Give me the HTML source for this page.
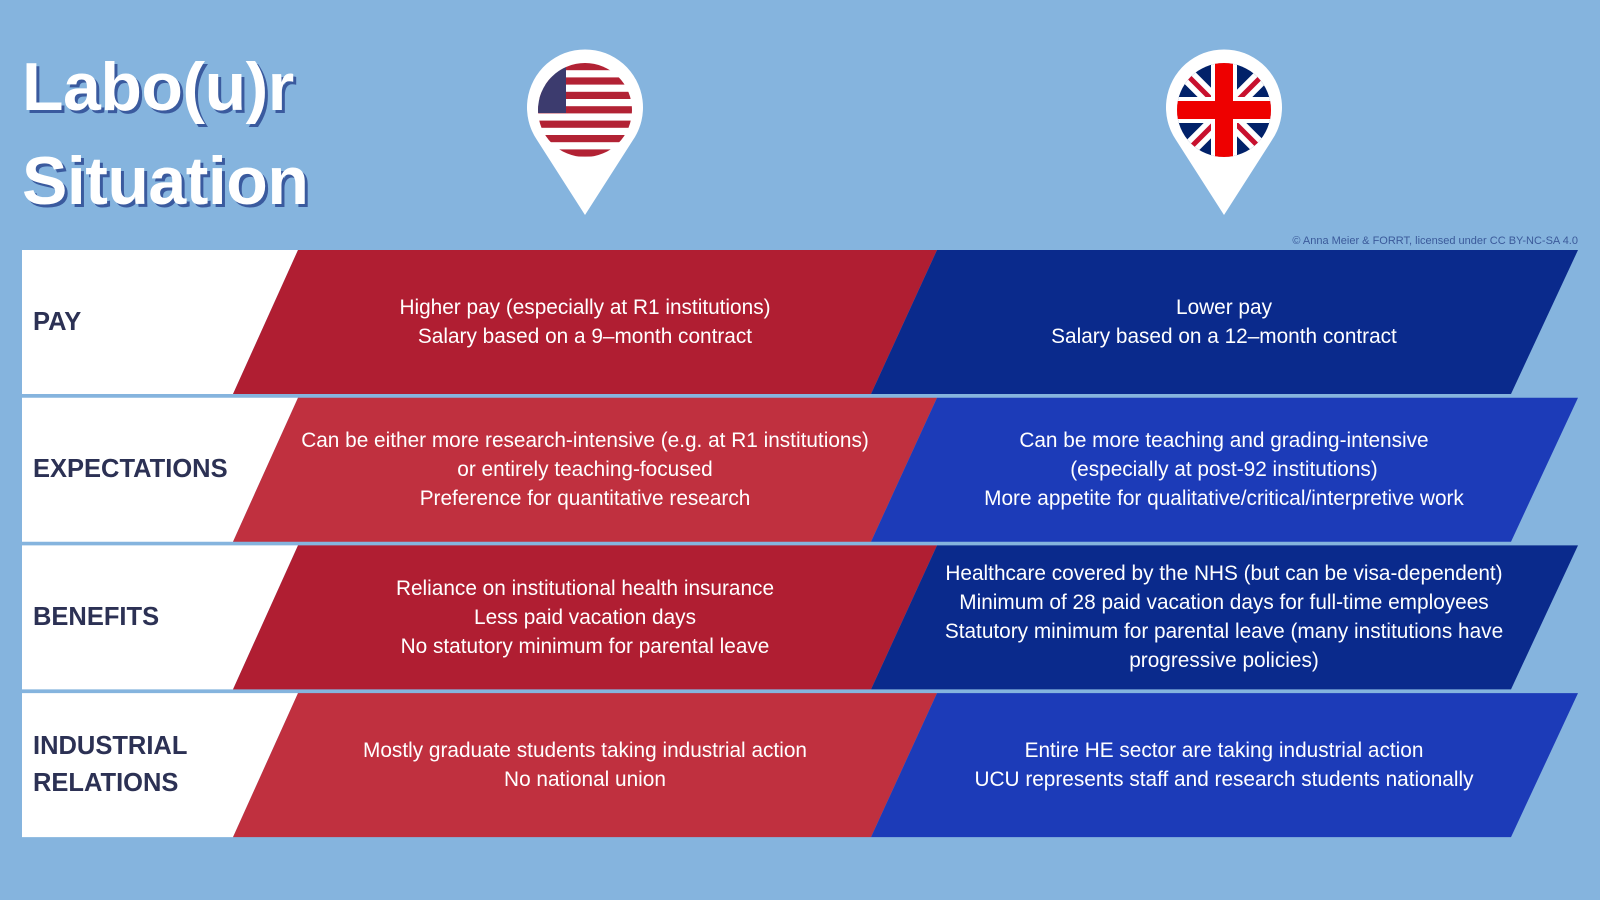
<!DOCTYPE html>
<html><head><meta charset="utf-8"><style>
body{margin:0;width:1600px;height:900px;background:#85b4de;overflow:hidden;font-family:"Liberation Sans",sans-serif;position:relative}
.t{position:absolute;left:22px;color:#fff;font-weight:bold;font-size:68px;letter-spacing:-0.5px;text-shadow:3px 3px 0 #3a5a9e}
.lab{position:absolute;left:33px;color:#2c3154;font-weight:bold;font-size:25.5px;line-height:37px;display:flex;align-items:center}
.cell{position:absolute;color:#fff;font-size:20.8px;line-height:29px;text-align:center;display:flex;align-items:center;justify-content:center}
</style></head><body>
<div class="t" style="top:48px">Labo(u)r</div>
<div class="t" style="top:142px">Situation</div>
<svg width="1600" height="900" style="position:absolute;left:0;top:0">
<defs>
<clipPath id="cu"><circle cx="585" cy="110" r="47"/></clipPath>
<clipPath id="ck"><circle cx="1224" cy="110" r="47"/></clipPath>
</defs>
<g>
<path d="M585 215 L537 140 A58 58 0 1 1 633 140 Z" fill="#fff"/>
<g clip-path="url(#cu)">
<rect x="530" y="58" width="110" height="110" fill="#fff"/>
<g fill="#b22234">
<rect x="530" y="63" width="110" height="7.2"/><rect x="530" y="77.4" width="110" height="7.2"/><rect x="530" y="91.8" width="110" height="7.2"/><rect x="530" y="106.2" width="110" height="7.2"/><rect x="530" y="120.6" width="110" height="7.2"/><rect x="530" y="135" width="110" height="7.2"/><rect x="530" y="149.4" width="110" height="7.2"/>
</g>
<rect x="530" y="58" width="36" height="55" fill="#3c3b6e"/>
</g>
</g>
<g>
<path d="M1224 215 L1176 140 A58 58 0 1 1 1272 140 Z" fill="#fff"/>
<g clip-path="url(#ck)">
<rect x="1170" y="58" width="110" height="110" fill="#012169"/>
<path d="M1170 58 L1280 168 M1280 58 L1170 168" stroke="#fff" stroke-width="16"/>
<path d="M1170 58 L1280 168 M1280 58 L1170 168" stroke="#c8102e" stroke-width="5"/>
<path d="M1224 58 V168 M1170 110 H1280" stroke="#fff" stroke-width="26"/>
<path d="M1224 58 V168 M1170 110 H1280" stroke="#e00" stroke-width="18"/>
</g>
</g>
<g id="rows"></g>
</svg>
<div style="position:absolute;right:22px;top:235px;font-size:11px;color:#3b5a9a">© Anna Meier &amp; FORRT, licensed under CC BY-NC-SA 4.0</div>
<div id="cells"></div>
<script>
const labels=["PAY","EXPECTATIONS","BENEFITS","INDUSTRIAL<br>RELATIONS"];
const usText=["Higher pay (especially at R1 institutions)<br>Salary based on a 9–month contract","Can be either more research-intensive (e.g. at R1 institutions)<br>or entirely teaching-focused<br>Preference for quantitative research","Reliance on institutional health insurance<br>Less paid vacation days<br>No statutory minimum for parental leave","Mostly graduate students taking industrial action<br>No national union"];
const ukText=["Lower pay<br>Salary based on a 12–month contract","Can be more teaching and grading-intensive<br>(especially at post-92 institutions)<br>More appetite for qualitative/critical/interpretive work","Healthcare covered by the NHS (but can be visa-dependent)<br>Minimum of 28 paid vacation days for full-time employees<br>Statutory minimum for parental leave (many institutions have<br>progressive policies)","Entire HE sector are taking industrial action<br>UCU represents staff and research students nationally"];
const reds=["#b01e32","#c0303f"],blues=["#0a2a8c","#1c3bb8"];
const g=document.getElementById('rows'),cells=document.getElementById('cells');
const ns="http://www.w3.org/2000/svg";
labels.forEach((l,i)=>{
 const t=250+i*147.7,b=t+144;
 const mk=(pts,f,n)=>{const p=document.createElementNS(ns,'polygon');p.setAttribute('points',pts);p.setAttribute('fill',f);
 
 
 g.appendChild(p);};
 mk(`22,${t} 298,${t} 233,${b} 22,${b}`,"#fff",'label-cell-'+i);
 mk(`298,${t} 937,${t} 871,${b} 233,${b}`,reds[i%2],'us-cell-'+i);
 mk(`937,${t} 1578,${t} 1511,${b} 871,${b}`,blues[i%2],'uk-cell-'+i);
 const a=document.createElement('div');a.className='lab';a.style.top=t+'px';a.style.height='144px';a.innerHTML=l;
 
 
 cells.appendChild(a);
 const u=document.createElement('div');u.className='cell';u.style.top=t+'px';u.style.height='144px';u.style.left='245px';u.style.width='680px';u.innerHTML=usText[i];
 
 
 cells.appendChild(u);
 const k=document.createElement('div');k.className='cell';k.style.top=t+'px';k.style.height='144px';k.style.left='884px';k.style.width='680px';k.innerHTML=ukText[i];
 
 
 cells.appendChild(k);
});
</script>
</body></html>
